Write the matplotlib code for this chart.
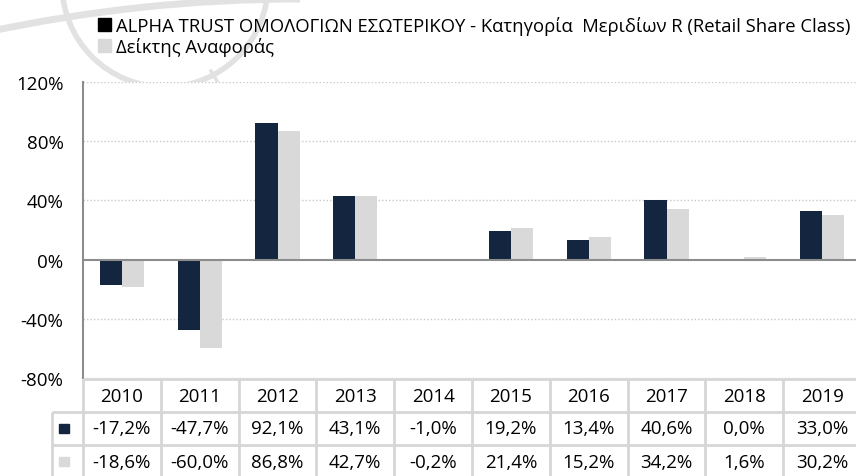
import numpy as np
import matplotlib
matplotlib.use('Agg')
from matplotlib import pyplot as plt
from matplotlib.patches import Patch, Rectangle, Arc

plt.rcParams['font.family'] = ['Open Sans', 'DejaVu Sans']

years = ['2010', '2011', '2012', '2013', '2014', '2015', '2016', '2017', '2018', '2019']
fund = [-17.2, -47.7, 92.1, 43.1, -1.0, 19.2, 13.4, 40.6, 0.0, 33.0]
bench = [-18.6, -60.0, 86.8, 42.7, -0.2, 21.4, 15.2, 34.2, 1.6, 30.2]
fund_label = 'ALPHA TRUST ΟΜΟΛΟΓΙΩΝ ΕΣΩΤΕΡΙΚΟΥ - Κατηγορία  Μεριδίων R (Retail Share Class)'
bench_label = 'Δείκτης Αναφοράς'
yticks = [-80, -40, 0, 40, 80, 120]

NAVY = '#13253f'
GREY = '#d9d9d9'
LINE = '#d6d6d6'

W, H = 856, 477
fig = plt.figure(figsize=(W / 100, H / 100), dpi=100)


def px(x0, y0, x1, y1):
    # pixel box (top-left origin) -> figure fraction rect
    return [x0 / W, 1 - y1 / H, (x1 - x0) / W, (y1 - y0) / H]


# faint logo watermark in the background
bg = fig.add_axes([0, 0, 1, 1], zorder=-1)
bg.set_xlim(0, W)
bg.set_ylim(H, 0)
bg.axis('off')
wm = '#e2e2e2'
bg.add_patch(Arc((165, -15), 206, 206, theta1=0, theta2=180, color=wm, lw=4))
bg.add_patch(Arc((300, 1500), 3000, 3000, theta1=258, theta2=270, color=wm, lw=5))
bg.plot([211, 224], [72, 94], color=wm, lw=2.5)
bg.plot([232, 238], [112, 123], color=wm, lw=2.5)

# main chart
ax = fig.add_axes(px(83, 83, 861, 379))
x = np.arange(len(years))
bw = 0.285
ax.bar(x - bw / 2, fund, bw, color=NAVY, zorder=3)
ax.bar(x + bw / 2, bench, bw, color=GREY, zorder=3)
ax.set_xlim(-0.5, len(years) - 0.5)
ax.set_ylim(-80, 120)
ax.set_yticks(yticks)
ax.set_yticklabels([f'{t}%' for t in yticks], fontsize=13.5)
ax.tick_params(axis='y', length=0, pad=14)
ax.set_xticks([])
for t in yticks:
    if t != 0:
        ax.axhline(t, color='#c9c9c9', lw=1, ls=(0, (1, 1.5)), zorder=1)
ax.axhline(0, color='#8c8c8c', lw=1.5, zorder=4)
for s in ['top', 'right', 'bottom']:
    ax.spines[s].set_visible(False)
ax.spines['left'].set_color('#8c8c8c')
ax.spines['left'].set_linewidth(1.5)

# data table below the chart
tb = fig.add_axes(px(83, 380, 861, 479))
tb.set_xlim(-0.5, len(years) - 0.5)
tb.set_ylim(3, 0)
tb.axis('off')
lk = dict(color=LINE, lw=2, clip_on=False, solid_capstyle='butt')
lm = -0.5 - 31 / 77.8
tb.plot([-0.5, len(years) - 0.5], [0, 0], **lk)
for r in (1, 2, 3):
    tb.plot([lm, len(years) - 0.5], [r, r], **lk)
for c in range(len(years) + 1):
    tb.plot([c - 0.5, c - 0.5], [0, 3], **lk)
tb.plot([lm, lm], [1, 3], **lk)
for i, yr in enumerate(years):
    tb.text(i, 0.5, yr, ha='center', va='center', fontsize=13.5)
for r, vals, col in ((1, fund, NAVY), (2, bench, GREY)):
    for i, v in enumerate(vals):
        tb.text(i, r + 0.5, f'{v:.1f}%'.replace('.', ','), ha='center',
                va='center', fontsize=13.5)
    tb.add_patch(Rectangle((lm + 0.09, r + 0.35), 0.13, 0.3, color=col,
                           clip_on=False))

# legend at the top
fig.legend(handles=[Patch(color='black', label=fund_label),
                    Patch(color=GREY, label=bench_label)],
           loc='upper left', bbox_to_anchor=(98 / W, 1 - 17 / H),
           frameon=False, fontsize=13.3, handlelength=0.7, handleheight=0.7,
           handletextpad=0.3, labelspacing=0.1, borderaxespad=0,
           borderpad=0)

fig.savefig('out.png', dpi=100)
